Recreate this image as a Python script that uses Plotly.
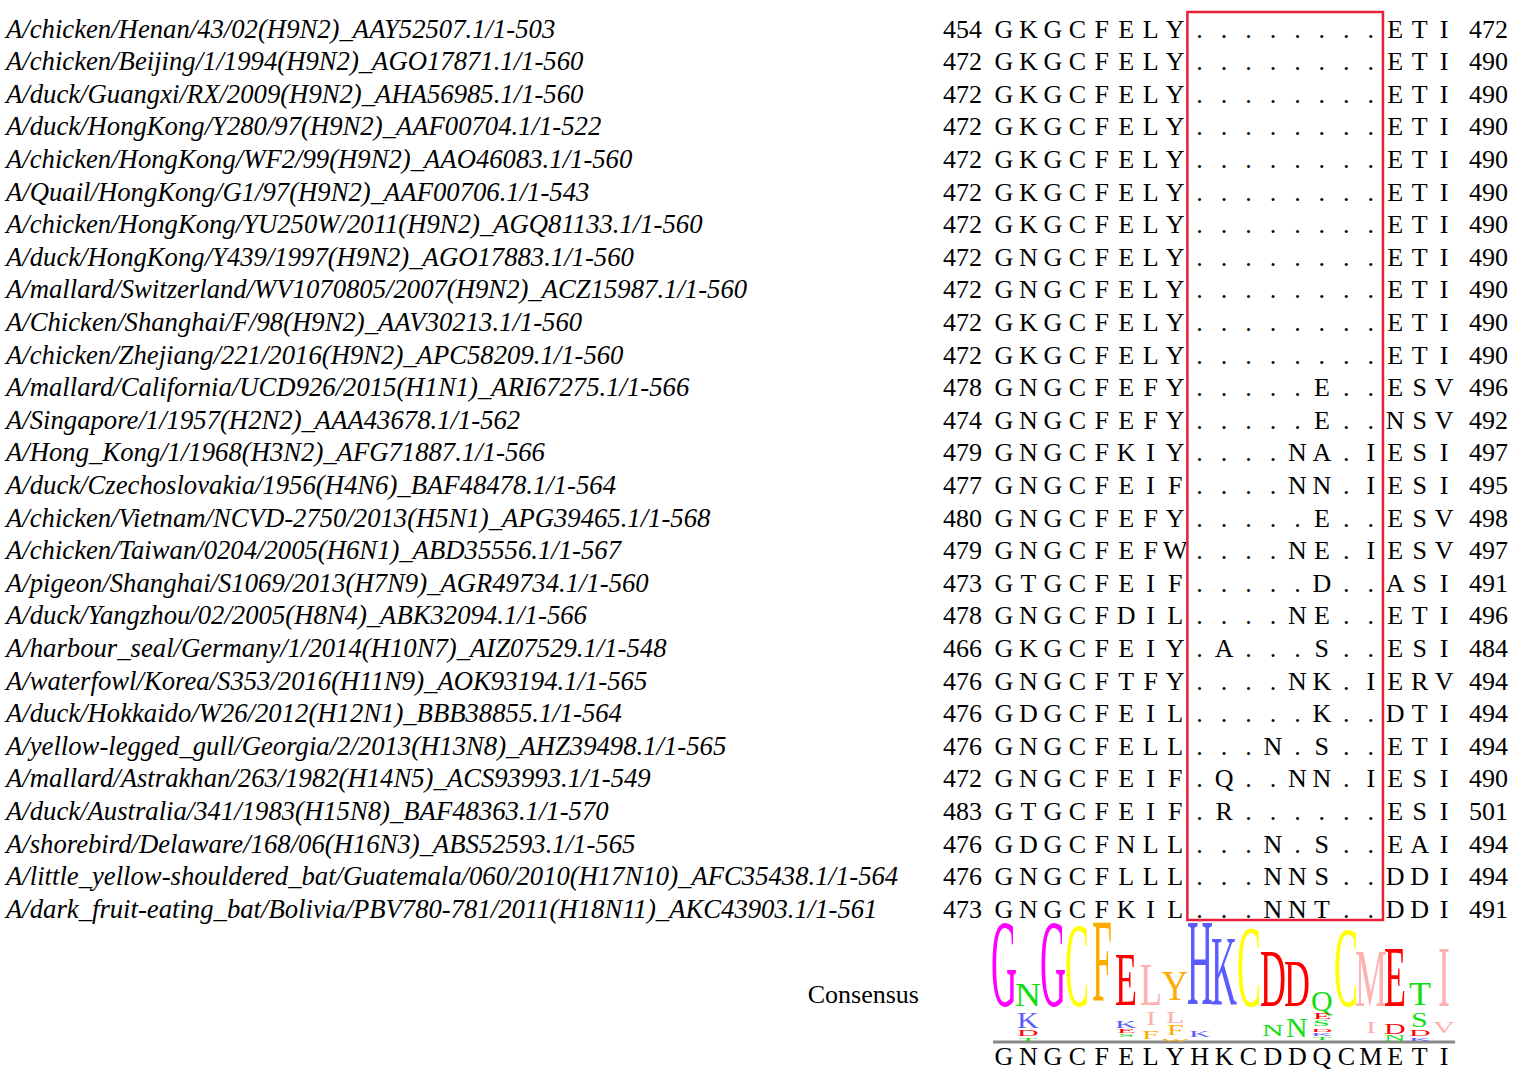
import plotly.graph_objects as go

names = [
"A/chicken/Henan/43/02(H9N2)_AAY52507.1/1-503",
"A/chicken/Beijing/1/1994(H9N2)_AGO17871.1/1-560",
"A/duck/Guangxi/RX/2009(H9N2)_AHA56985.1/1-560",
"A/duck/HongKong/Y280/97(H9N2)_AAF00704.1/1-522",
"A/chicken/HongKong/WF2/99(H9N2)_AAO46083.1/1-560",
"A/Quail/HongKong/G1/97(H9N2)_AAF00706.1/1-543",
"A/chicken/HongKong/YU250W/2011(H9N2)_AGQ81133.1/1-560",
"A/duck/HongKong/Y439/1997(H9N2)_AGO17883.1/1-560",
"A/mallard/Switzerland/WV1070805/2007(H9N2)_ACZ15987.1/1-560",
"A/Chicken/Shanghai/F/98(H9N2)_AAV30213.1/1-560",
"A/chicken/Zhejiang/221/2016(H9N2)_APC58209.1/1-560",
"A/mallard/California/UCD926/2015(H1N1)_ARI67275.1/1-566",
"A/Singapore/1/1957(H2N2)_AAA43678.1/1-562",
"A/Hong_Kong/1/1968(H3N2)_AFG71887.1/1-566",
"A/duck/Czechoslovakia/1956(H4N6)_BAF48478.1/1-564",
"A/chicken/Vietnam/NCVD-2750/2013(H5N1)_APG39465.1/1-568",
"A/chicken/Taiwan/0204/2005(H6N1)_ABD35556.1/1-567",
"A/pigeon/Shanghai/S1069/2013(H7N9)_AGR49734.1/1-560",
"A/duck/Yangzhou/02/2005(H8N4)_ABK32094.1/1-566",
"A/harbour_seal/Germany/1/2014(H10N7)_AIZ07529.1/1-548",
"A/waterfowl/Korea/S353/2016(H11N9)_AOK93194.1/1-565",
"A/duck/Hokkaido/W26/2012(H12N1)_BBB38855.1/1-564",
"A/yellow-legged_gull/Georgia/2/2013(H13N8)_AHZ39498.1/1-565",
"A/mallard/Astrakhan/263/1982(H14N5)_ACS93993.1/1-549",
"A/duck/Australia/341/1983(H15N8)_BAF48363.1/1-570",
"A/shorebird/Delaware/168/06(H16N3)_ABS52593.1/1-565",
"A/little_yellow-shouldered_bat/Guatemala/060/2010(H17N10)_AFC35438.1/1-564",
"A/dark_fruit-eating_bat/Bolivia/PBV780-781/2011(H18N11)_AKC43903.1/1-561",
]
starts = [454,472,472,472,472,472,472,472,472,472,472,478,474,479,477,480,479,473,478,466,476,476,476,472,483,476,476,473]
ends = [472,490,490,490,490,490,490,490,490,490,490,496,492,497,495,498,497,491,496,484,494,494,494,490,501,494,494,491]
seqs = [
"GKGCFELY........ETI","GKGCFELY........ETI","GKGCFELY........ETI","GKGCFELY........ETI",
"GKGCFELY........ETI","GKGCFELY........ETI","GKGCFELY........ETI","GNGCFELY........ETI",
"GNGCFELY........ETI","GKGCFELY........ETI","GKGCFELY........ETI",
"GNGCFEFY.....E..ESV","GNGCFEFY.....E..NSV","GNGCFKIY....NA.IESI","GNGCFEIF....NN.IESI",
"GNGCFEFY.....E..ESV","GNGCFEFW....NE.IESV","GTGCFEIF.....D..ASI","GNGCFDIL....NE..ETI",
"GKGCFEIY.A...S..ESI","GNGCFTFY....NK.IERV","GDGCFEIL.....K..DTI","GNGCFELL...N.S..ETI",
"GNGCFEIF.Q..NN.IESI","GTGCFEIF.R......ESI","GDGCFNLL...N.S..EAI","GNGCFLLL...NNS..DDI",
"GNGCFKIL...NNT..DDI",
]
consensus = "GNGCFELYHKCDDQCMETI"
# logo stacks per column: (letter, top, bottom) in logo height units above the baseline
logo = [
 [("G",120,37)],
 [("N",60,37),("K",30,15),("D",12,7),("T",5,2)],
 [("G",120,37)],
 [("C",117,37)],
 [("F",120,42)],
 [("E",87,37),("K",22,15),("E",14,10),("S",9,6)],
 [("L",77,37),("I",30,17),("F",12,4)],
 [("Y",70,42),("L",30,19),("F",16,7),("W",4,1)],
 [("H",120,39),("K",11,6)],
 [("K",105,39)],
 [("C",114,37)],
 [("D",92,37),("N",17,6)],
 [("D",82,37),("N",24,6)],
 [("Q",52,32),("E",30,24),("S",22,17),("D",14,11),("K",10,7),("T",6,3)],
 [("C",112,37)],
 [("M",92,37),("I",20,9)],
 [("E",94,37),("D",19,9),("N",7,2)],
 [("T",59,37),("S",30,16),("D",12,7),("K",5,2)],
 [("I",94,37),("V",20,9)],
]
aa_colors = {"G":"#ff00ff","N":"#11dd11","Q":"#11dd11","S":"#11dd11","T":"#11dd11",
             "K":"#5a5aff","R":"#5a5aff","H":"#5a5aff","D":"#ff0000","E":"#ff0000",
             "C":"#ffff00","F":"#ffaa00","Y":"#ffaa00","W":"#ffaa00",
             "L":"#ffb0b0","I":"#ffb0b0","M":"#ffb0b0","V":"#ffb0b0","A":"#ffb0b0"}

SERIF = "Liberation Serif, Times New Roman, serif"
FS = 26
row_y0, row_dy = 31, 32.6
col_x0, col_dx = 1004, 24.45
box_from, box_to = 8, 16
logo_base = 1042

fig = go.Figure()
rows_y = [row_y0 + i*row_dy for i in range(len(names))]
fig.add_trace(go.Scatter(x=[6]*len(names), y=rows_y, mode="text",
    text=["<i>"+n+"</i>" for n in names], textposition="middle right",
    textfont=dict(family=SERIF, size=26.7, color="black"), hoverinfo="skip"))
fig.add_trace(go.Scatter(x=[982]*len(names), y=rows_y, mode="text",
    text=[str(s) for s in starts], textposition="middle left",
    textfont=dict(family=SERIF, size=FS, color="black"), hoverinfo="skip"))
fig.add_trace(go.Scatter(x=[1469]*len(names), y=rows_y, mode="text",
    text=[str(e) for e in ends], textposition="middle right",
    textfont=dict(family=SERIF, size=FS, color="black"), hoverinfo="skip"))
xs, ys, ts = [], [], []
for i, s in enumerate(seqs):
    for j, c in enumerate(s):
        xs.append(col_x0 + j*col_dx); ys.append(rows_y[i]); ts.append(c)
for j, c in enumerate(consensus):
    xs.append(col_x0 + j*col_dx); ys.append(1058); ts.append(c)
fig.add_trace(go.Scatter(x=xs, y=ys, mode="text", text=ts, textposition="middle center",
    textfont=dict(family=SERIF, size=FS, color="black"), hoverinfo="skip"))
fig.add_trace(go.Scatter(x=[919], y=[996], mode="text", text=["Consensus"],
    textposition="middle left", textfont=dict(family=SERIF, size=FS, color="black"),
    hoverinfo="skip"))

bx0 = col_x0 + (box_from-0.5)*col_dx
bx1 = col_x0 + (box_to-0.5)*col_dx
fig.add_shape(type="rect", x0=bx0, x1=bx1, y0=12, y1=920,
              line=dict(color="#e8203a", width=2.5))
fig.add_shape(type="line", x0=col_x0-0.45*col_dx, x1=col_x0+18.45*col_dx,
              y0=logo_base, y1=logo_base, line=dict(color="#888888", width=3))

LOGO_SIZE = 36
CAP = 0.662
scales = []
for j, stack in enumerate(logo):
    for (c, top, bot) in stack:
        h = top - bot
        sz = LOGO_SIZE if h > 20 else 30
        fig.add_annotation(x=col_x0 + j*col_dx, y=logo_base - (top+bot)/2, text=c,
            showarrow=False, xanchor="center", yanchor="middle",
            font=dict(family=SERIF, size=sz, color=aa_colors.get(c, "#888")))
        scales.append(round(h/(CAP*sz), 3))

fig.update_layout(width=1523, height=1080, margin=dict(l=0, r=0, t=0, b=0),
    paper_bgcolor="white", plot_bgcolor="white", showlegend=False,
    xaxis=dict(range=[0, 1523], visible=False, fixedrange=True),
    yaxis=dict(range=[1080, 0], visible=False, fixedrange=True))

js = """
document.body.style.margin='0';
var gd=document.querySelector('.js-plotly-plot');
var ks=%s;
function stretch(){
 gd.querySelectorAll('g.annotation').forEach(function(g){
  var i=+g.getAttribute('data-index'); var k=ks[i];
  var t=g.querySelector('text'); if(!t||!k) return;
  t.style.transformBox='fill-box'; t.style.transformOrigin='center';
  t.style.transform='scaleY('+k+')';
 });
}
stretch(); setTimeout(stretch,200);
""" % str(scales)
fig.write_html("out.html", post_script=js, config={"staticPlot": True})
